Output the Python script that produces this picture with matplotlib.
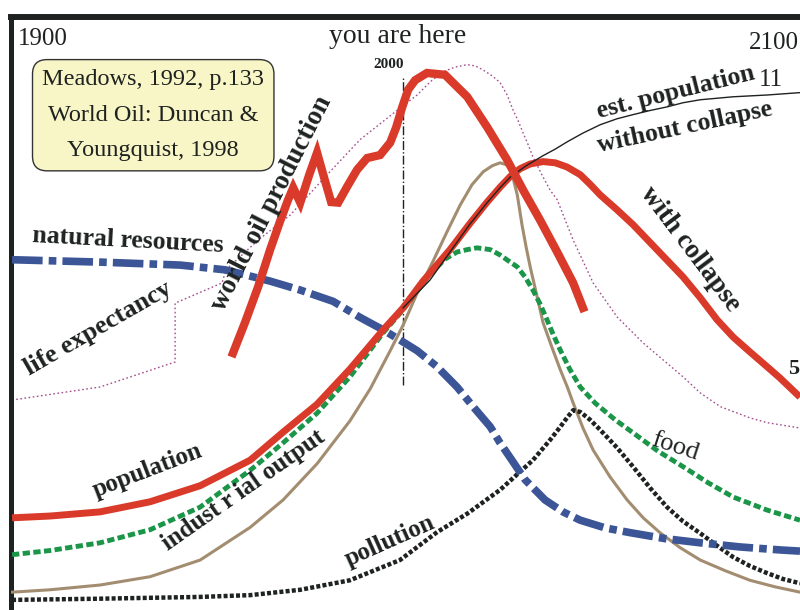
import matplotlib
matplotlib.use("Agg")
import matplotlib.pyplot as plt

plt.rcParams['font.family'] = ['Liberation Serif', 'DejaVu Serif']

# natural resources
res_year = [1900, 1922.5, 1943.0, 1954.5, 1966.0, 1973.7, 1982.1, 1989.0, 1994.9, 1999.2,
            2003.6, 2008.7, 2013.8, 2017.9, 2022.3, 2024.8, 2027.4, 2031.2, 2036.3, 2040.9,
            2045.3, 2051.7, 2058.1, 2067.0, 2076.0, 2086.2, 2096.4, 2101.5]
res_level = [58.9, 58.5, 58.0, 57.2, 55.3, 53.8, 51.9, 49.2, 47.1, 45.4,
             43.6, 40.9, 37.5, 34.2, 30.8, 28.1, 25.6, 21.9, 18.5, 16.5,
             15.1, 13.8, 13.0, 12.0, 11.3, 10.6, 10.1, 9.9]

# population (with collapse)
pop_year = [1900, 1909.7, 1922.5, 1935.3, 1948.1, 1960.9, 1969.3, 1978.0, 1986.4, 1994.9,
            2000, 2005.1, 2012.0, 2017.1, 2021.5, 2024.8, 2027.4, 2029.9, 2032.5, 2035.8,
            2038.9, 2041.9, 2045.3, 2047.8, 2050.4, 2054.7, 2058.8, 2065.2, 2071.6, 2076.0,
            2080.3, 2084.4, 2088.7, 2093.1, 2096.4, 2101.5]
pop_level = [15.5, 15.8, 16.5, 18.2, 20.9, 25.2, 29.9, 34.6, 40.5, 47.1,
             50.8, 55.3, 60.6, 65.0, 68.6, 71.1, 72.9, 74.2, 75.0, 75.4,
             75.2, 74.5, 73.2, 71.6, 69.8, 67.3, 64.8, 60.4, 56.0, 52.5,
             48.8, 45.9, 43.4, 40.9, 39.0, 35.8]

# est. population without collapse
nocol_year = [2000, 2006.9, 2012.0, 2017.1, 2021.5, 2024.8, 2027.4, 2031.7, 2035.8, 2038.9,
              2041.9, 2046.0, 2050.4, 2054.7, 2058.8, 2063.2, 2067.5, 2071.6, 2076.0, 2084.4,
              2093.1, 2101.5]
nocol_level = [50.8, 55.5, 60.2, 64.9, 68.5, 71.0, 72.8, 74.8, 76.4, 77.5,
               78.7, 80.2, 81.6, 82.6, 83.3, 84.0, 84.6, 85.3, 85.8, 86.3,
               86.6, 87.0]

# world oil production
oil_year = [1956.5, 1959.6, 1962.9, 1966.0, 1968.5, 1970.6, 1971.9, 1973.7, 1976.0, 1978.0,
            1979.8, 1981.6, 1983.4, 1985.7, 1988.2, 1990.8, 1994.1, 1996.7, 1998.2, 1999.7,
            2001.3, 2003.1, 2006.1, 2010.7, 2016.4, 2021.5, 2026.6, 2030.7, 2035.0, 2039.4,
            2043.5, 2046.0]
oil_level = [43.2, 48.4, 54.3, 60.6, 65.3, 69.0, 71.0, 68.5, 73.2, 76.9,
             72.7, 68.6, 68.5, 71.2, 74.0, 76.0, 76.5, 78.6, 81.1, 84.4,
             87.5, 89.1, 90.3, 90.0, 86.3, 81.2, 75.7, 70.6, 65.6, 60.2,
             55.0, 50.8]

# life expectancy
life_year = [1900, 1922.5, 1941.7, 1941.7, 1953.7, 1954.7, 1962.9, 1971.1, 1981.3, 1989.0,
             1999.2, 2003.6, 2006.9, 2010.2, 2013.3, 2016.4, 2018.4, 2020.5, 2022.8, 2024.8,
             2026.6, 2028.1, 2029.4, 2030.7, 2032.0, 2033.2, 2034.5, 2035.8, 2037.6, 2039.4,
             2043.5, 2048.6, 2054.7, 2061.4, 2071.6, 2076.0, 2081.1, 2088.7, 2093.1, 2101.5]
life_level = [35.3, 37.5, 41.7, 51.6, 55.0, 57.2, 62.2, 66.4, 73.7, 79.1,
              84.4, 86.6, 88.8, 90.5, 91.3, 91.7, 91.5, 90.8, 89.8, 88.7,
              86.6, 84.1, 82.3, 80.2, 78.2, 76.2, 74.5, 72.8, 70.6, 69.0,
              62.2, 55.0, 49.3, 44.9, 39.2, 36.5, 34.2, 32.3, 31.5, 30.6]

# food
food_year = [1900, 1909.7, 1922.5, 1935.3, 1948.1, 1960.9, 1969.3, 1978.0, 1986.4, 1994.9,
             2000, 2006.9, 2010.7, 2013.8, 2016.4, 2018.9, 2022.3, 2024.8, 2027.4, 2029.2,
             2031.2, 2033.2, 2035.0, 2036.8, 2038.4, 2040.2, 2042.7, 2045.3, 2049.1, 2054.2,
             2058.8, 2065.2, 2071.6, 2078.0, 2084.4, 2093.1, 2101.5]
food_level = [9.3, 10.0, 11.3, 13.5, 17.3, 23.5, 28.1, 33.1, 39.2, 46.6,
              50.5, 56.5, 59.0, 60.2, 60.6, 60.9, 60.6, 59.7, 58.5, 57.7,
              56.0, 53.8, 51.5, 48.8, 46.3, 43.7, 40.4, 37.5, 34.8, 32.0,
              29.8, 26.7, 24.1, 21.4, 19.0, 16.8, 15.1]

# industrial output
ind_year = [1900, 1909.7, 1922.5, 1935.3, 1948.1, 1960.9, 1969.3, 1978.0, 1986.4, 1991.6,
            1996.7, 2000, 2003.6, 2007.7, 2011.3, 2014.6, 2017.6, 2020.5, 2022.8, 2024.8,
            2026.3, 2027.4, 2028.1, 2029.2, 2030.4, 2031.5, 2032.5, 2034.3, 2035.8, 2038.1,
            2040.2, 2042.0, 2043.5, 2046.0, 2048.6, 2052.9, 2057.3, 2061.4, 2065.7, 2070.8,
            2076.0, 2082.4, 2088.7, 2095.1, 2101.5]
ind_level = [3.0, 3.4, 4.2, 5.6, 8.4, 13.9, 18.5, 24.6, 31.8, 37.2,
             43.6, 47.9, 53.3, 58.7, 63.7, 68.1, 71.5, 73.7, 74.7, 75.2,
             74.9, 74.4, 72.7, 69.8, 64.8, 60.9, 57.7, 52.6, 48.3, 44.1,
             40.4, 37.5, 34.8, 30.6, 26.9, 22.4, 18.5, 15.5, 13.0, 10.5,
             8.4, 6.6, 5.0, 3.9, 3.0]

# pollution
pol_year = [1900, 1922.5, 1948.1, 1960.9, 1973.7, 1986.4, 1999.2, 2008.7, 2016.4, 2024.8,
            2033.2, 2037.6, 2040.2, 2042.0, 2043.5, 2045.3, 2047.8, 2050.4, 2054.7, 2058.8,
            2063.2, 2067.5, 2071.6, 2076.0, 2080.3, 2084.4, 2088.7, 2093.1, 2097.2, 2101.5]
pol_level = [1.7, 1.9, 2.2, 2.5, 3.4, 5.0, 8.4, 13.1, 16.2, 20.2,
             25.2, 28.6, 30.8, 32.4, 33.6, 33.3, 32.0, 30.3, 27.3, 24.1,
             20.5, 17.3, 14.9, 12.9, 10.8, 8.9, 7.4, 6.2, 5.2, 4.5]

red = '#da3a2a'
blue = '#3b5597'
green = '#1b9548'
tan = '#a38d70'
purple = '#a5508f'
ink = '#1e2220'

fig = plt.figure(figsize=(8, 6.1), dpi=100)
ax = fig.add_axes([10.5 / 800, 0, 1 - 10.5 / 800, 1 - 16.5 / 610])
ax.set_xlim(1899.6, 2101.5)
ax.set_ylim(0, 99.8)
ax.set_xticks([])
ax.set_yticks([])
for s in ['right', 'bottom']:
    ax.spines[s].set_visible(False)
ax.spines['top'].set_linewidth(4.3)
ax.spines['left'].set_linewidth(3.6)
ax.spines['top'].set_color(ink)
ax.spines['left'].set_color(ink)

ax.plot(life_year, life_level, color=purple, lw=1, dashes=(1.2, 1.8), zorder=2)
ax.plot(ind_year, ind_level, color=tan, lw=2.2, zorder=3)
ax.plot(pol_year, pol_level, color=ink, lw=3.2, dashes=(0.9, 0.5), zorder=3)
ax.plot(food_year, food_level, color=green, lw=3.5, dashes=(1.5, 0.7), zorder=3)
ax.plot(res_year, res_level, color=blue, lw=5.5, dashes=(4, 0.8, 1, 0.8), zorder=4)
ax.plot(nocol_year, nocol_level, color=ink, lw=1, zorder=5)
ax.plot(pop_year, pop_level, color=red, lw=5, solid_capstyle='butt', zorder=4)
ax.plot(oil_year, oil_level, color=red, lw=6, solid_joinstyle='miter', zorder=6)

ax.vlines(2000, 37.8, 89.5, colors=ink, lw=1, linestyles='dashdot', zorder=1)

ax.text(1901.5, 96.1, '1900', fontsize=18, ha='left', va='center', color=ink)
ax.text(1998.5, 96.4, 'you are here', fontsize=20, ha='center', va='center', color=ink)
ax.text(1996.2, 91.8, '2000', fontsize=11, fontweight='bold', ha='center', va='center', color=ink)
ax.text(2101.2, 95.4, '2100', fontsize=18, ha='right', va='center', color=ink)
ax.text(2091.0, 89.1, '11', fontsize=18, ha='left', va='center', color=ink)
ax.text(2101.2, 40.5, '5', fontsize=16, fontweight='bold', ha='right', va='center', color=ink)

ax.text(1936.1, 83.2, 'Meadows, 1992, p.133\nWorld Oil: Duncan &\nYoungquist, 1998',
        fontsize=17.5, ha='center', va='center', linespacing=1.9, color=ink, zorder=7,
        bbox=dict(boxstyle='round,pad=0.4,rounding_size=0.6', fc='#f8f5c6', ec='#333333', lw=1))

labels = [
    ('natural resources', 1929.7, 62.1, -3, 18.5),
    ('life expectancy', 1922.0, 47.3, 30, 19),
    ('world oil production', 1966.3, 68.3, 63, 19.5),
    ('est. population', 2069.8, 87.0, 14, 18.5),
    ('without collapse', 2072.1, 81.1, 12, 18.5),
    ('with collapse', 2073.4, 60.6, -53, 19.5),
    ('population', 1934.5, 23.5, 21, 18),
    ('indust r ial output', 1959.1, 20.2, 35, 18),
    ('pollution', 1996.7, 11.6, 24, 18),
]
for txt, x, y, rot, fs in labels:
    ax.text(x, y, txt, fontsize=fs, fontweight='bold', rotation=rot, rotation_mode='anchor',
            ha='center', va='center', color=ink, zorder=8)
ax.text(2069.6, 27.4, 'food', fontsize=19, rotation=-18, rotation_mode='anchor',
        ha='center', va='center', color=ink, zorder=8)

fig.savefig('out.png', dpi=100)
